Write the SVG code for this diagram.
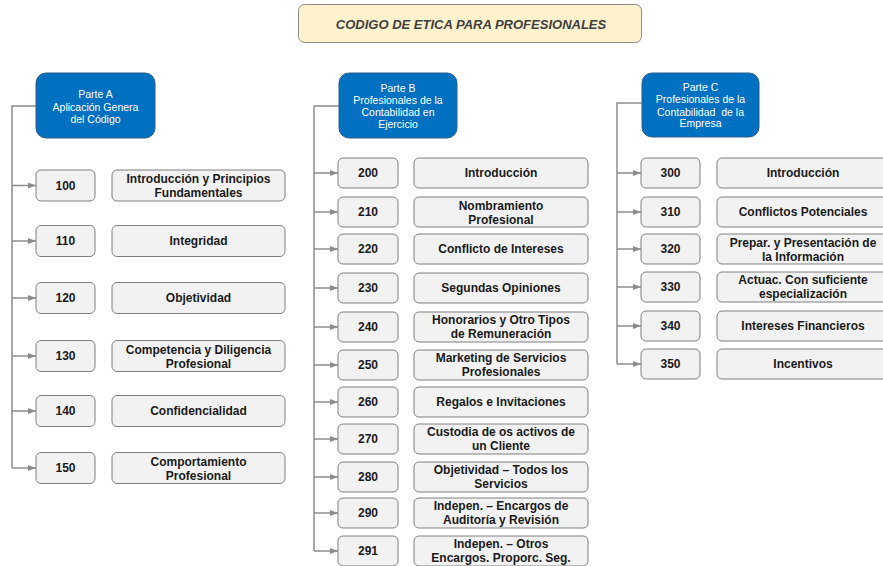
<svg xmlns="http://www.w3.org/2000/svg" width="883" height="566" viewBox="0 0 883 566">
<style>
  .title-box { fill: #FFF2CC; stroke: #8a8a8a; stroke-width: 1; }
  .title { font-family: "Liberation Sans", Arial, sans-serif; font-size: 13px; font-weight: bold; font-style: italic; fill: #404040; text-anchor: middle; }
  .hdr { fill: #0070C0; stroke: #2C5C8C; stroke-width: 1; }
  .hdr-t { font-family: "Liberation Sans", Arial, sans-serif; font-size: 10.5px; fill: #ffffff; text-anchor: middle; white-space: pre; }
  .box { fill: #F2F2F2; stroke: #7f7f7f; stroke-width: 1; }
  .t { font-family: "Liberation Sans", Arial, sans-serif; font-size: 12px; font-weight: bold; fill: #1a1a1a; text-anchor: middle; }
  .conn { fill: none; stroke: #8c8c8c; stroke-width: 1.5; }
  .arr { fill: none; stroke: #8c8c8c; stroke-width: 1.5; marker-end: url(#ah); }
</style>
<defs>
  <marker id="ah" viewBox="0 0 8 6" refX="8" refY="3" markerWidth="8" markerHeight="6" markerUnits="userSpaceOnUse" orient="auto">
    <path d="M0,0 L8,3 L0,6 z" fill="#8c8c8c"/>
  </marker>
</defs>
<rect width="883" height="566" fill="#ffffff"/>

<g id="title">
  <rect class="title-box" x="298.5" y="4.5" width="343" height="38" rx="6"/>
  <text class="title" x="471" y="29">CODIGO DE ETICA PARA PROFESIONALES</text>
</g>

<g id="connectors">
  <!-- Parte A -->
  <path class="conn" d="M36,106 H12 V468"/>
  <path class="arr" d="M12,185.5 H36"/>
  <path class="arr" d="M12,241 H36"/>
  <path class="arr" d="M12,298 H36"/>
  <path class="arr" d="M12,356 H36"/>
  <path class="arr" d="M12,411 H36"/>
  <path class="arr" d="M12,468 H36"/>
  <!-- Parte B -->
  <path class="conn" d="M339,106 H314 V551"/>
  <path class="arr" d="M314,173 H338"/>
  <path class="arr" d="M314,212 H338"/>
  <path class="arr" d="M314,249 H338"/>
  <path class="arr" d="M314,288 H338"/>
  <path class="arr" d="M314,327 H338"/>
  <path class="arr" d="M314,365 H338"/>
  <path class="arr" d="M314,402 H338"/>
  <path class="arr" d="M314,439 H338"/>
  <path class="arr" d="M314,477 H338"/>
  <path class="arr" d="M314,513 H338"/>
  <path class="arr" d="M314,551 H338"/>
  <!-- Parte C -->
  <path class="conn" d="M642,103 H617 V364"/>
  <path class="arr" d="M617,173 H641"/>
  <path class="arr" d="M617,212 H641"/>
  <path class="arr" d="M617,249 H641"/>
  <path class="arr" d="M617,287 H641"/>
  <path class="arr" d="M617,326 H641"/>
  <path class="arr" d="M617,364 H641"/>
</g>

<!-- Parte A -->
<g id="parteA">
  <rect class="hdr" x="36" y="73" width="119" height="65" rx="10"/>
  <text class="hdr-t" x="95.5" y="98">Parte A</text>
  <text class="hdr-t" x="95.5" y="111">Aplicación Genera</text>
  <text class="hdr-t" x="95.5" y="123">del Código</text>
</g>
<g id="n100"><rect class="box" x="36" y="170" width="59" height="31" rx="5"/><text class="t" x="65.5" y="189.8">100</text></g>
<g id="t100"><rect class="box" x="112" y="170" width="173" height="31" rx="5"/><text class="t" x="198.5" y="183.3">Introducción y Principios</text><text class="t" x="198.5" y="197.3">Fundamentales</text></g>
<g id="n110"><rect class="box" x="36" y="225.5" width="59" height="31" rx="5"/><text class="t" x="65.5" y="245.3">110</text></g>
<g id="t110"><rect class="box" x="112" y="225.5" width="173" height="31" rx="5"/><text class="t" x="198.5" y="245.3">Integridad</text></g>
<g id="n120"><rect class="box" x="36" y="282.5" width="59" height="31" rx="5"/><text class="t" x="65.5" y="302.3">120</text></g>
<g id="t120"><rect class="box" x="112" y="282.5" width="173" height="31" rx="5"/><text class="t" x="198.5" y="302.3">Objetividad</text></g>
<g id="n130"><rect class="box" x="36" y="340.5" width="59" height="31" rx="5"/><text class="t" x="65.5" y="360.3">130</text></g>
<g id="t130"><rect class="box" x="112" y="340.5" width="173" height="31" rx="5"/><text class="t" x="198.5" y="353.8">Competencia y Diligencia</text><text class="t" x="198.5" y="367.8">Profesional</text></g>
<g id="n140"><rect class="box" x="36" y="395.5" width="59" height="31" rx="5"/><text class="t" x="65.5" y="415.3">140</text></g>
<g id="t140"><rect class="box" x="112" y="395.5" width="173" height="31" rx="5"/><text class="t" x="198.5" y="415.3">Confidencialidad</text></g>
<g id="n150"><rect class="box" x="36" y="452.5" width="59" height="31" rx="5"/><text class="t" x="65.5" y="472.3">150</text></g>
<g id="t150"><rect class="box" x="112" y="452.5" width="173" height="31" rx="5"/><text class="t" x="198.5" y="465.8">Comportamiento</text><text class="t" x="198.5" y="479.8">Profesional</text></g>

<!-- Parte B -->
<g id="parteB">
  <rect class="hdr" x="339" y="73" width="118" height="65" rx="10"/>
  <text class="hdr-t" x="398" y="92">Parte B</text>
  <text class="hdr-t" x="398" y="104">Profesionales de la</text>
  <text class="hdr-t" x="398" y="116">Contabilidad en</text>
  <text class="hdr-t" x="398" y="127.5">Ejercicio</text>
</g>
<g id="n200"><rect class="box" x="338" y="158" width="60" height="30" rx="5"/><text class="t" x="368" y="177.3">200</text></g>
<g id="t200"><rect class="box" x="414" y="158" width="174" height="30" rx="5"/><text class="t" x="501" y="177.3">Introducción</text></g>
<g id="n210"><rect class="box" x="338" y="197" width="60" height="30" rx="5"/><text class="t" x="368" y="216.3">210</text></g>
<g id="t210"><rect class="box" x="414" y="197" width="174" height="30" rx="5"/><text class="t" x="501" y="209.8">Nombramiento</text><text class="t" x="501" y="223.8">Profesional</text></g>
<g id="n220"><rect class="box" x="338" y="234" width="60" height="30" rx="5"/><text class="t" x="368" y="253.3">220</text></g>
<g id="t220"><rect class="box" x="414" y="234" width="174" height="30" rx="5"/><text class="t" x="501" y="253.3">Conflicto de Intereses</text></g>
<g id="n230"><rect class="box" x="338" y="273" width="60" height="30" rx="5"/><text class="t" x="368" y="292.3">230</text></g>
<g id="t230"><rect class="box" x="414" y="273" width="174" height="30" rx="5"/><text class="t" x="501" y="292.3">Segundas Opiniones</text></g>
<g id="n240"><rect class="box" x="338" y="312" width="60" height="30" rx="5"/><text class="t" x="368" y="331.3">240</text></g>
<g id="t240"><rect class="box" x="414" y="312" width="174" height="30" rx="5"/><text class="t" x="501" y="324.3">Honorarios y Otro Tipos</text><text class="t" x="501" y="338.3">de Remuneración</text></g>
<g id="n250"><rect class="box" x="338" y="350" width="60" height="30" rx="5"/><text class="t" x="368" y="369.3">250</text></g>
<g id="t250"><rect class="box" x="414" y="350" width="174" height="30" rx="5"/><text class="t" x="501" y="362.3">Marketing de Servicios</text><text class="t" x="501" y="376.3">Profesionales</text></g>
<g id="n260"><rect class="box" x="338" y="387" width="60" height="30" rx="5"/><text class="t" x="368" y="406.3">260</text></g>
<g id="t260"><rect class="box" x="414" y="387" width="174" height="30" rx="5"/><text class="t" x="501" y="406.3">Regalos e Invitaciones</text></g>
<g id="n270"><rect class="box" x="338" y="424" width="60" height="30" rx="5"/><text class="t" x="368" y="443.3">270</text></g>
<g id="t270"><rect class="box" x="414" y="424" width="174" height="30" rx="5"/><text class="t" x="501" y="436.3">Custodia de os activos de</text><text class="t" x="501" y="450.3">un Cliente</text></g>
<g id="n280"><rect class="box" x="338" y="462" width="60" height="30" rx="5"/><text class="t" x="368" y="481.3">280</text></g>
<g id="t280"><rect class="box" x="414" y="462" width="174" height="30" rx="5"/><text class="t" x="501" y="474.3">Objetividad – Todos los</text><text class="t" x="501" y="488.3">Servicios</text></g>
<g id="n290"><rect class="box" x="338" y="498" width="60" height="30" rx="5"/><text class="t" x="368" y="517.3">290</text></g>
<g id="t290"><rect class="box" x="414" y="498" width="174" height="30" rx="5"/><text class="t" x="501" y="510.3">Indepen. – Encargos de</text><text class="t" x="501" y="524.3">Auditoría y Revisión</text></g>
<g id="n291"><rect class="box" x="338" y="536" width="60" height="30" rx="5"/><text class="t" x="368" y="555.3">291</text></g>
<g id="t291"><rect class="box" x="414" y="536" width="174" height="30" rx="5"/><text class="t" x="501" y="548.3">Indepen. – Otros</text><text class="t" x="501" y="562.3">Encargos. Proporc. Seg.</text></g>

<!-- Parte C -->
<g id="parteC">
  <rect class="hdr" x="642" y="73" width="117" height="64" rx="10"/>
  <text class="hdr-t" x="700.5" y="90.5">Parte C</text>
  <text class="hdr-t" x="700.5" y="103">Profesionales de la</text>
  <text class="hdr-t" x="700.5" y="115.5">Contabilidad  de la</text>
  <text class="hdr-t" x="700.5" y="127">Empresa</text>
</g>
<g id="n300"><rect class="box" x="641" y="158" width="59" height="30" rx="5"/><text class="t" x="670.5" y="177.3">300</text></g>
<g id="t300"><rect class="box" x="717" y="158" width="174" height="30" rx="5"/><text class="t" x="803" y="177.3">Introducción</text></g>
<g id="n310"><rect class="box" x="641" y="197" width="59" height="30" rx="5"/><text class="t" x="670.5" y="216.3">310</text></g>
<g id="t310"><rect class="box" x="717" y="197" width="174" height="30" rx="5"/><text class="t" x="803" y="216.3">Conflictos Potenciales</text></g>
<g id="n320"><rect class="box" x="641" y="234" width="59" height="30" rx="5"/><text class="t" x="670.5" y="253.3">320</text></g>
<g id="t320"><rect class="box" x="717" y="234" width="174" height="30" rx="5"/><text class="t" x="803" y="246.8">Prepar. y Presentación de</text><text class="t" x="803" y="260.8">la Información</text></g>
<g id="n330"><rect class="box" x="641" y="272" width="59" height="30" rx="5"/><text class="t" x="670.5" y="291.3">330</text></g>
<g id="t330"><rect class="box" x="717" y="272" width="174" height="30" rx="5"/><text class="t" x="803" y="284.3">Actuac. Con suficiente</text><text class="t" x="803" y="298.3">especialización</text></g>
<g id="n340"><rect class="box" x="641" y="311" width="59" height="30" rx="5"/><text class="t" x="670.5" y="330.3">340</text></g>
<g id="t340"><rect class="box" x="717" y="311" width="174" height="30" rx="5"/><text class="t" x="803" y="330.3">Intereses Financieros</text></g>
<g id="n350"><rect class="box" x="641" y="349" width="59" height="30" rx="5"/><text class="t" x="670.5" y="368.3">350</text></g>
<g id="t350"><rect class="box" x="717" y="349" width="174" height="30" rx="5"/><text class="t" x="803" y="368.3">Incentivos</text></g>
</svg>
